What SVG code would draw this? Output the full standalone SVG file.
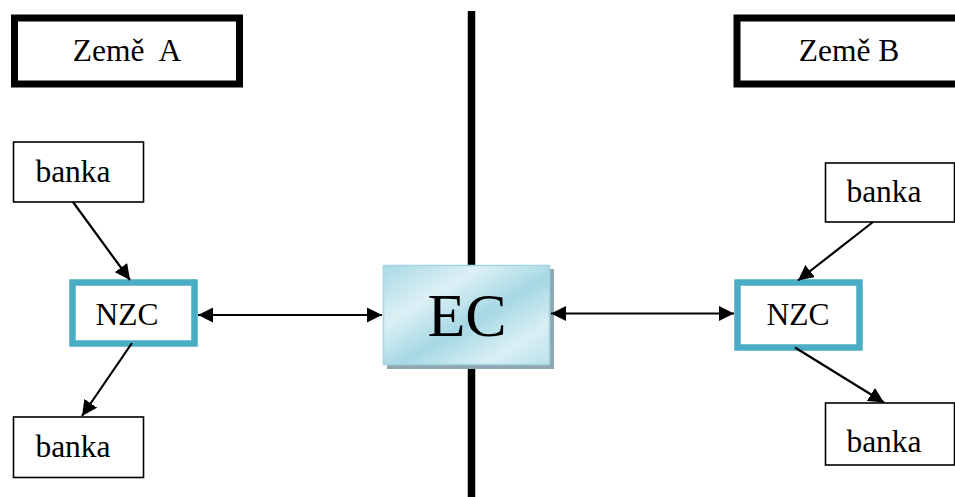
<svg xmlns="http://www.w3.org/2000/svg" width="955" height="497" viewBox="0 0 955 497">
  <defs>
    <style>
      text { font-family: "Liberation Serif", "Times New Roman", serif; fill: #000; text-anchor: middle; }
      .lbl { font-size: 31.5px; }
      .country { fill: #fff; stroke: #000; stroke-width: 7; }
      .bank { fill: #fff; stroke: #000; stroke-width: 1.6; }
      .nzc { fill: #fff; stroke: #4bacc6; stroke-width: 6.5; }
      .conn { stroke: #000; stroke-width: 2.2; fill: none; }
    </style>
    <linearGradient id="ecFill" x1="0" y1="0" x2="1" y2="1">
      <stop offset="0" stop-color="#a9d9e5"/>
      <stop offset="0.3" stop-color="#dcf0f5"/>
      <stop offset="0.55" stop-color="#a6d8e4"/>
      <stop offset="0.8" stop-color="#d9eff4"/>
      <stop offset="1" stop-color="#b9e1ea"/>
    </linearGradient>
    <marker id="arrow" viewBox="0 0 10 10" refX="10" refY="5" markerWidth="7" markerHeight="7" orient="auto-start-reverse" markerUnits="strokeWidth">
      <path d="M0,0 L10,5 L0,10 Z" fill="#000"/>
    </marker>
  </defs>

  <!-- border between the two countries -->
  <line x1="471.5" y1="11" x2="471.5" y2="497" stroke="#000" stroke-width="7.5"/>

  <g id="zeme-a">
    <rect class="country" x="14.5" y="18" width="225" height="66"/>
    <text class="lbl" x="127" y="61">Země&#160; A</text>
  </g>

  <g id="zeme-b">
    <rect class="country" x="737" y="18" width="230" height="66"/>
    <text class="lbl" x="849" y="61">Země B</text>
  </g>

  <g id="ec">
    <rect x="387" y="269" width="167" height="100" fill="#8fa7b0"/>
    <rect x="383.5" y="265.5" width="166" height="99" fill="url(#ecFill)" stroke="#a3d6e2" stroke-width="1.5"/>
    <text x="467" y="336" font-size="62px">EC</text>
  </g>

  <g id="nzc-a">
    <rect class="nzc" x="72.5" y="282.5" width="122" height="61"/>
    <text class="lbl" x="127" y="325">NZC</text>
  </g>

  <g id="nzc-b">
    <rect class="nzc" x="737.5" y="282.5" width="122" height="65"/>
    <text class="lbl" x="798" y="325">NZC</text>
  </g>

  <g id="banka-a-top">
    <rect class="bank" x="13.5" y="142" width="130" height="60"/>
    <text class="lbl" x="73" y="182">banka</text>
  </g>

  <g id="banka-a-bottom">
    <rect class="bank" x="13.5" y="417" width="130" height="60.5"/>
    <text class="lbl" x="73" y="457">banka</text>
  </g>

  <g id="banka-b-top">
    <rect class="bank" x="825.5" y="163" width="129" height="59"/>
    <text class="lbl" x="884" y="202">banka</text>
  </g>

  <g id="banka-b-bottom">
    <rect class="bank" x="825.5" y="403" width="129" height="62"/>
    <text class="lbl" x="884" y="452">banka</text>
  </g>

  <g id="connectors">
    <line class="conn" x1="198" y1="315" x2="382" y2="315" marker-start="url(#arrow)" marker-end="url(#arrow)"/>
    <line class="conn" x1="551" y1="313.5" x2="734" y2="313.5" marker-start="url(#arrow)" marker-end="url(#arrow)"/>
    <line class="conn" x1="73" y1="202" x2="130" y2="280" marker-end="url(#arrow)"/>
    <line class="conn" x1="132" y1="343" x2="82" y2="416" marker-end="url(#arrow)"/>
    <line class="conn" x1="873" y1="222" x2="798" y2="280.5" marker-end="url(#arrow)"/>
    <line class="conn" x1="795" y1="347.5" x2="884" y2="402.5" marker-end="url(#arrow)"/>
  </g>
</svg>
